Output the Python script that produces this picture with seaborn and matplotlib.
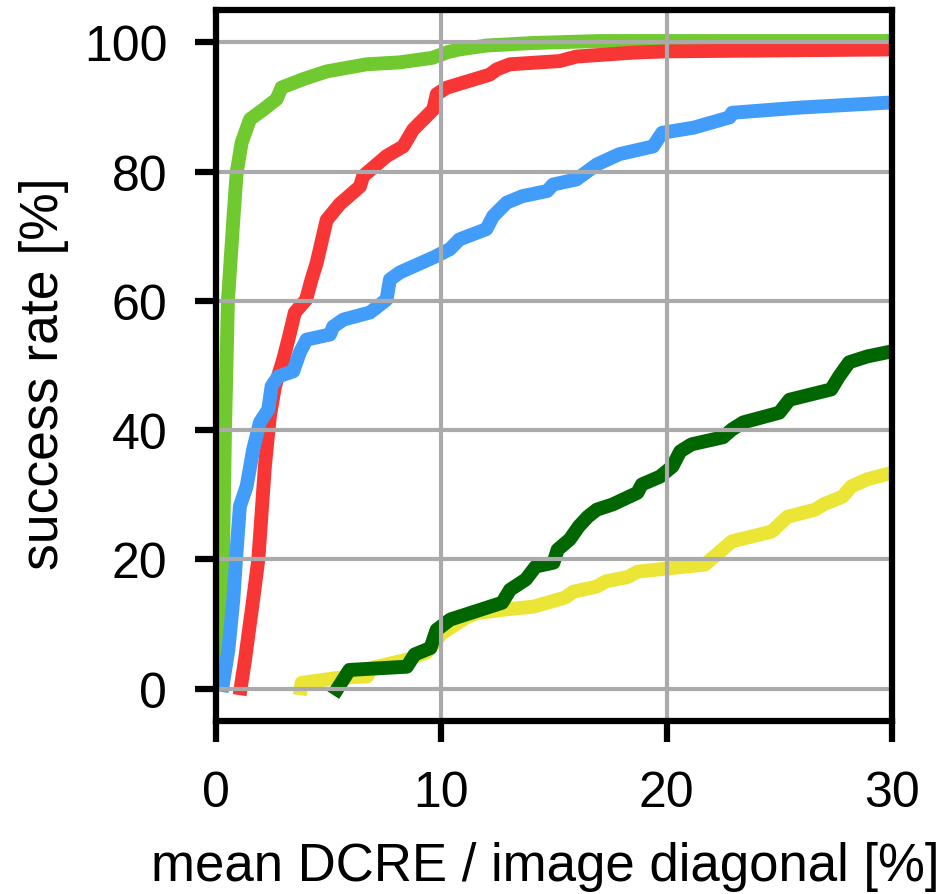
import numpy as np
import pandas as pd
import matplotlib
matplotlib.use("Agg")
import matplotlib.pyplot as plt
import seaborn as sns

# curves (x: mean DCRE / diagonal [%], y: success rate [%])
light_green_x = [0.1, 0.18, 0.31, 0.4, 0.53, 0.77, 0.92, 1.14, 1.51, 2.1, 2.69, 2.91, 3.87,
                 4.91, 6.68, 8.16, 9.6, 10.3, 10.8, 12.0, 14.1, 17.0, 30.0]
light_green_y = [0, 5, 20, 40, 60, 72.6, 79.9, 84.5, 88.1, 89.6, 91.2, 93.0, 94.3,
                 95.5, 96.6, 96.9, 97.6, 98.5, 98.9, 99.5, 99.9, 100.2, 100.2]

red_x = [1.05, 1.29, 1.65, 1.88, 2.17, 2.39, 2.62, 2.98, 3.21, 3.5, 4.0, 4.24, 4.47, 4.61,
         4.91, 5.5, 6.39, 6.53, 7.57, 8.31, 8.75, 9.64, 9.8, 10.25, 12.15, 12.45, 13.04,
         15.25, 16.0, 18.5, 20.0, 30.0]
red_y = [-1, 4.5, 13.8, 20, 34.4, 42.1, 46.8, 50.9, 54.0, 58.2, 60.2, 63.3, 65.9, 68,
         72.5, 75, 77.7, 79.3, 82.4, 83.9, 86.5, 89.6, 92, 93, 95.0, 95.8, 96.6,
         97.1, 97.8, 98.4, 98.6, 98.9]

blue_x = [0.25, 0.55, 0.77, 0.92, 1.06, 1.36, 1.65, 1.95, 2.32, 2.47, 2.76, 3.43, 3.72,
          4.02, 5.06, 5.2, 5.65, 6.83, 7.13, 7.57, 7.72, 8.16, 9.7, 10.38, 10.8, 12.0,
          12.3, 12.9, 13.6, 14.7, 14.96, 16.0, 16.9, 17.9, 19.4, 19.8, 21.2, 22.8, 22.9,
          25.9, 30.0]
blue_y = [-0.5, 6, 13.8, 21.5, 28.2, 31.3, 37, 41.2, 43.2, 46.8, 48.3, 49.1, 52,
          54, 54.8, 56, 57.1, 58.2, 59, 60.2, 63.3, 64.4, 66.8, 68, 69.5, 71.1,
          73.1, 75.2, 76.2, 77, 78, 78.8, 81.1, 82.7, 83.9, 86, 86.8, 88.4, 89.1,
          89.9, 90.7]

dark_green_x = [5.21, 5.92, 8.47, 8.82, 9.52, 9.79, 10.4, 12.7, 13.05, 13.75, 14.19, 14.98,
                15.16, 15.7, 16.1, 16.5, 16.9, 17.6, 18.7, 18.9, 19.7, 20.26, 20.6, 21.1,
                22.5, 22.9, 23.4, 25.0, 25.45, 27.3, 27.65, 28.1, 28.9, 30.0]
dark_green_y = [-1, 2.9, 3.4, 5.3, 6.3, 9.1, 10.7, 13.3, 15.3, 16.9, 18.9, 19.5,
                21.5, 23.1, 25.1, 26.6, 27.7, 28.5, 30.3, 31.6, 32.8, 34.4, 36.7, 37.8,
                38.9, 40.1, 41.2, 42.7, 44.7, 46.3, 48.3, 50.5, 51.4, 52.2]

yellow_x = [3.72, 3.8, 5.48, 6.71, 6.9, 8.47, 9.35, 10.0, 11.1, 11.6, 12.7, 14.1, 15.5,
            15.86, 16.9, 17.3, 18.3, 18.7, 20.3, 21.7, 22.2, 22.9, 24.66, 25.36, 26.6,
            26.95, 27.8, 28.2, 28.9, 30.0]
yellow_y = [-1, 0.9, 1.7, 1.9, 3.2, 4.5, 5.6, 8.5, 11, 11.7, 12.2, 12.7, 14.1,
            15.0, 15.8, 16.6, 17.3, 18.1, 18.7, 19.2, 20.7, 22.8, 24.3, 26.6, 27.7,
            28.5, 29.7, 31.3, 32.4, 33.4]

X_TICKS = [0, 10, 20, 30]
Y_TICKS = [0, 20, 40, 60, 80, 100]

# drawing order: bottom first
series = [
    (yellow_x, yellow_y, "#ebe536"),
    (dark_green_x, dark_green_y, "#006600"),
    (light_green_x, light_green_y, "#70c92f"),
    (red_x, red_y, "#f83636"),
    (blue_x, blue_y, "#429dfa"),
]

sns.set_style("white")
plt.rcParams["font.family"] = ["Liberation Sans", "DejaVu Sans"]
plt.rcParams.update({"text.color": "black", "axes.labelcolor": "black",
                     "xtick.color": "black", "ytick.color": "black"})

fig = plt.figure(figsize=(9.46, 8.95), dpi=100)
ax = fig.add_axes([0.2283, 0.1933, 0.7146, 0.7944])

for xs, ys, col in series:
    df = pd.DataFrame({"x": xs, "y": ys})
    sns.lineplot(data=df, x="x", y="y", ax=ax, color=col, linewidth=10,
                 sort=False, estimator=None, solid_capstyle="butt")

ax.set_xlim(0, 30)
ax.set_ylim(-5, 105)
ax.set_xticks(X_TICKS)
ax.set_yticks(Y_TICKS)

ax.set_axisbelow(False)
ax.grid(True, color="#aaaaaa", linewidth=3)

for sp in ax.spines.values():
    sp.set_visible(True)
    sp.set_color("black")
    sp.set_linewidth(4.5)
    sp.set_zorder(3)

ax.tick_params(axis="both", direction="out", length=15, width=4.5, color="black",
               labelcolor="black", labelsize=36, pad=20, bottom=True, left=True)

ax.set_xlabel("mean DCRE / image diagonal [%]", fontsize=38)
ax.xaxis.set_label_coords(0.487, -0.169)
ax.set_ylabel("success rate [%]", fontsize=38.5)
ax.yaxis.set_label_coords(-0.218, 0.49)

fig.savefig("out.png", dpi=100)
